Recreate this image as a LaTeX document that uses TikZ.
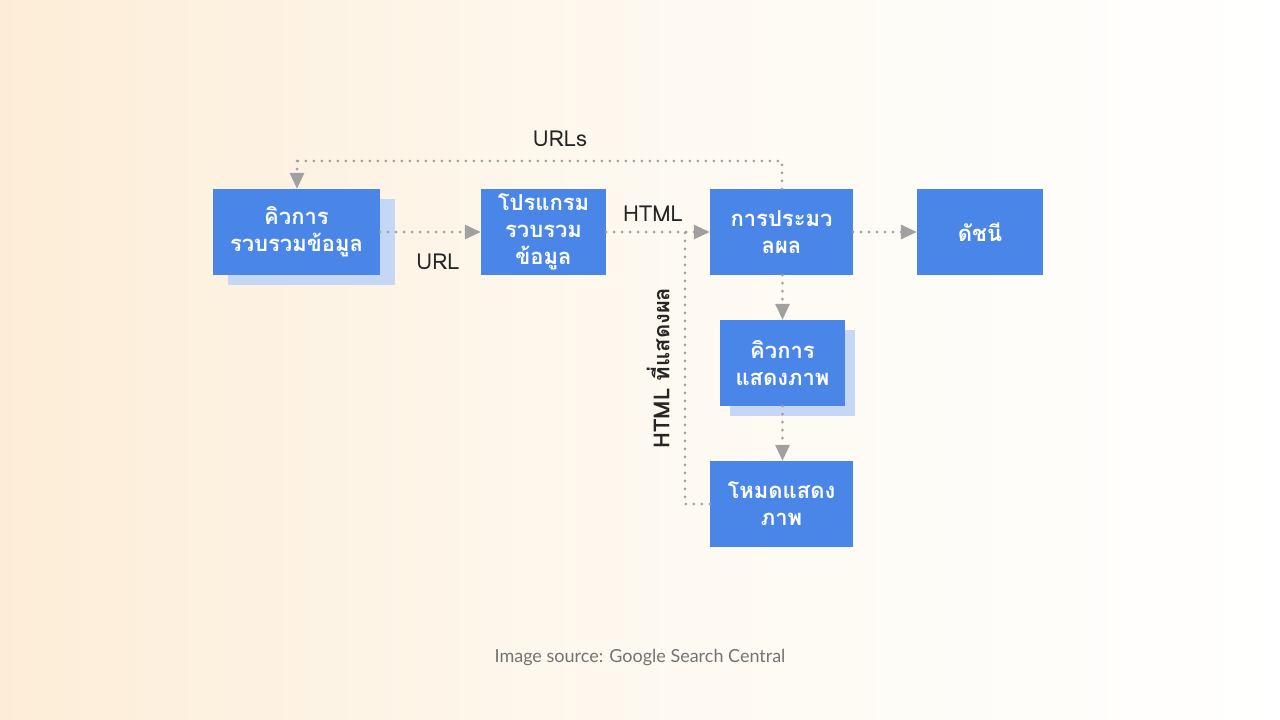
\documentclass[tikz,border=0pt]{standalone}
\usepackage{fontspec}
\setmainfont{Liberation Sans}
\newfontfamily\thaifont[Script=Thai]{Loma}
\newfontfamily\capfont{Lato}
\usetikzlibrary{positioning,arrows.meta}
\definecolor{boxblue}{RGB}{74,134,232}
\definecolor{shadowblue}{RGB}{198,214,245}
\definecolor{linegray}{RGB}{160,160,160}
\definecolor{peach}{RGB}{253,237,216}
\definecolor{cream}{RGB}{254,250,242}

\begin{document}
\begin{tikzpicture}[
    x=1pt, y=-1pt,
    box/.style={rectangle, fill=boxblue, text=white, font=\thaifont\bfseries\fontsize{22}{27}\selectfont, align=center, inner sep=0pt},
    shadowbox/.style={rectangle, fill=shadowblue, inner sep=0pt},
    arrow/.style={linegray, line width=3pt, line cap=round, dash pattern=on 0pt off 8pt, -{Triangle[length=16pt,width=14pt,fill=linegray]}},
    link/.style={linegray, line width=3pt, line cap=round, dash pattern=on 0pt off 8pt},
    lbl/.style={font=\thaifont\fontsize{22}{27}\selectfont, text=black!85}
]

% Background
\shade[left color=peach, right color=cream] (0,0) rectangle (700,720);
\shade[left color=cream, right color=white] (700,0) rectangle (1280,720);
\useasboundingbox (0,0) rectangle (1280,720);

% Shadows
\node[shadowbox, minimum width=167pt, minimum height=86pt] at (311.5,242) {};
\node[shadowbox, minimum width=125pt, minimum height=86pt] at (792.5,373) {};

% Boxes
\node[box, minimum width=167pt, minimum height=86pt] (queue) at (296.5,232) {คิวการ\\รวบรวมข้อมูล};
\node[box, minimum width=125pt, minimum height=86pt] (crawler) at (543.5,232) {โปรแกรม\\รวบรวม\\ข้อมูล};
\node[box, minimum width=143pt, minimum height=86pt] (process) at (781.5,232) {การประมว\\ลผล};
\node[box, minimum width=126pt, minimum height=86pt] (index) at (980,232) {ดัชนี};
\node[box, minimum width=125pt, minimum height=86pt] (renderq) at (782.5,363) {คิวการ\\แสดงภาพ};
\node[box, minimum width=143pt, minimum height=86pt] (render) at (781.5,504) {โหมดแสดง\\ภาพ};

% Corner points
\coordinate (urltop) at (782,161);
\coordinate (urlleft) at (297,161);
\coordinate (htmlcorner) at (685,504);
\coordinate (htmljoin) at (685,232);

% Arrows
\draw[link] (process.north -| urltop) -- (urltop) -- (urlleft);
\draw[arrow] (urlleft) -- (queue.north -| urlleft);
\draw[arrow] (queue) -- (crawler);
\draw[arrow] (crawler) -- (process);
\draw[arrow] (process) -- (index);
\draw[arrow] (process.south -| renderq) -- (renderq.north);
\draw[arrow] (renderq) -- (render.north -| renderq);
\draw[link] (render.west) -- (htmlcorner) -- (htmljoin);

% Labels
\node[lbl] (urlslbl) at (560,139) {URLs};
\node[lbl] (urllbl) at (438,262) {URL};
\node[lbl] (htmllbl) at (653,214) {HTML};
\node[lbl, font=\thaifont\bfseries\fontsize{22}{27}\selectfont, rotate=90] (renderlbl) at (658,368) {HTML ที่แสดงผล};

% Caption
\node[font=\capfont\fontsize{18}{21}\selectfont, text=black!55] (caption) at (640,658) {Image source: Google Search Central};

\end{tikzpicture}
\end{document}
